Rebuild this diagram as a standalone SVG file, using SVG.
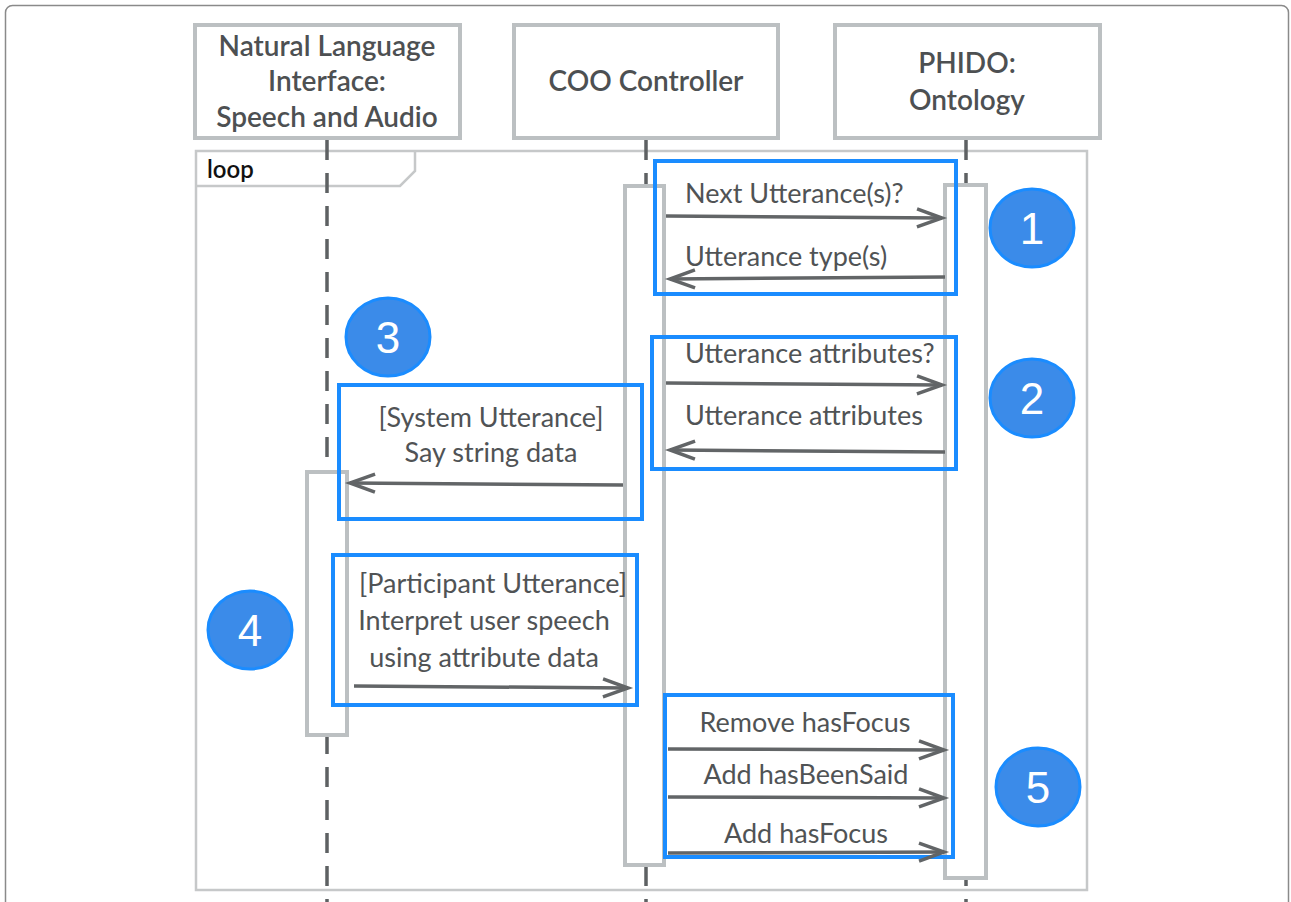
<svg xmlns="http://www.w3.org/2000/svg" width="1291" height="902" viewBox="0 0 1291 902">
<defs>
<style>
.frame{fill:none;stroke:#8a8a8a;stroke-width:1.5}
.head{fill:#ffffff;stroke:#bcc0c2;stroke-width:4}
.htxt{font-family:Lato,"Open Sans",sans-serif;font-size:28px;font-weight:600;fill:#4d5052;text-anchor:middle}
.loop{fill:none;stroke:#c6c8c9;stroke-width:2.5}
.life{stroke:#5e6163;stroke-width:3.5;stroke-dasharray:20 13;fill:none}
.act{fill:#ffffff;stroke:#bcc0c2;stroke-width:4}
.blue{fill:none;stroke:#1a8cff;stroke-width:4}
.msg{stroke:#626567;stroke-width:3.5;fill:none}
.mtxt{font-family:Lato,"Open Sans",sans-serif;font-size:27px;fill:#505355}
.mid{text-anchor:middle}
.badge{fill:#3b8be9;stroke:#1a8cff;stroke-width:3}
.num{font-family:"Liberation Sans",Arial,sans-serif;font-size:44px;fill:#ffffff;text-anchor:middle}
</style>
<marker id="arr" markerUnits="userSpaceOnUse" markerWidth="34" markerHeight="26" refX="27" refY="13" orient="auto">
<path d="M2,4 L27,13 L2,22" fill="none" stroke="#626567" stroke-width="3.5"/>
</marker>
</defs>
<rect class="frame" x="5.5" y="5.5" width="1283" height="920" rx="7"/>
<g id="loop-frame">
<rect class="loop" x="196" y="151" width="891" height="739"/>
<path class="loop" d="M196,186 L400,186 L415,171 L415,151"/>
<text x="207" y="178" font-family="Lato,'Open Sans',sans-serif" font-size="24" font-weight="600" fill="#111">loop</text>
</g>
<g id="lifelines">
<line class="life" x1="327" y1="140" x2="327" y2="902"/>
<line class="life" x1="646" y1="140" x2="646" y2="902"/>
<line class="life" x1="966" y1="140" x2="966" y2="902"/>
</g>
<g id="node-nl">
<rect class="head" x="195" y="25" width="265" height="113"/>
<text class="htxt" x="327" y="56">Natural Language</text>
<text class="htxt" x="327" y="91">Interface:</text>
<text class="htxt" x="327" y="127">Speech and Audio</text>
</g>
<g id="node-coo">
<rect class="head" x="514" y="25" width="264" height="113"/>
<text class="htxt" x="646" y="91">COO Controller</text>
</g>
<g id="node-phido">
<rect class="head" x="835" y="25" width="265" height="113"/>
<text class="htxt" x="967" y="73">PHIDO:</text>
<text class="htxt" x="967" y="110">Ontology</text>
</g>
<g id="activations">
<rect class="act" x="625" y="186" width="39" height="679"/>
<rect class="act" x="945" y="185" width="41" height="693"/>
<rect class="act" x="307" y="472" width="40" height="263"/>
</g>
<g id="groups">
<rect id="box1" class="blue" x="655" y="161" width="301" height="133"/>
<rect id="box2" class="blue" x="652" y="337" width="304" height="132"/>
<rect id="box3" class="blue" x="339" y="385" width="303" height="134"/>
<rect id="box4" class="blue" x="333" y="555" width="304" height="150"/>
<rect id="box5" class="blue" x="665" y="695" width="288" height="162"/>
</g>
<g id="connectors">
<line class="msg" x1="666" y1="216" x2="942" y2="218" marker-end="url(#arr)"/>
<line class="msg" x1="945" y1="277" x2="670" y2="279" marker-end="url(#arr)"/>
<line class="msg" x1="666" y1="383" x2="942" y2="385" marker-end="url(#arr)"/>
<line class="msg" x1="945" y1="452" x2="670" y2="450" marker-end="url(#arr)"/>
<line class="msg" x1="623" y1="485" x2="350" y2="483" marker-end="url(#arr)"/>
<line class="msg" x1="354" y1="686" x2="628" y2="688" marker-end="url(#arr)"/>
<line class="msg" x1="668" y1="749" x2="944" y2="750" marker-end="url(#arr)"/>
<line class="msg" x1="668" y1="797" x2="944" y2="798" marker-end="url(#arr)"/>
<line class="msg" x1="668" y1="853" x2="944" y2="852" marker-end="url(#arr)"/>
</g>
<g id="labels">
<text class="mtxt" x="685" y="203">Next Utterance(s)?</text>
<text class="mtxt" x="685" y="266">Utterance type(s)</text>
<text class="mtxt" x="685" y="363">Utterance attributes?</text>
<text class="mtxt" x="685" y="425">Utterance attributes</text>
<text class="mtxt mid" x="491" y="427">[System Utterance]</text>
<text class="mtxt mid" x="491" y="462">Say string data</text>
<text class="mtxt mid" x="493" y="593">[Participant Utterance]</text>
<text class="mtxt mid" x="484" y="630">Interpret user speech</text>
<text class="mtxt mid" x="484" y="667">using attribute data</text>
<text class="mtxt mid" x="805" y="732">Remove hasFocus</text>
<text class="mtxt mid" x="806" y="784">Add hasBeenSaid</text>
<text class="mtxt mid" x="806" y="843">Add hasFocus</text>
</g>
<g id="badge1"><ellipse class="badge" cx="1032" cy="228" rx="42" ry="39"/><text class="num" x="1032" y="244">1</text></g>
<g id="badge2"><ellipse class="badge" cx="1032" cy="398" rx="42" ry="39"/><text class="num" x="1032" y="414">2</text></g>
<g id="badge3"><ellipse class="badge" cx="388" cy="337" rx="42" ry="39"/><text class="num" x="388" y="353">3</text></g>
<g id="badge4"><ellipse class="badge" cx="250" cy="630" rx="42" ry="39"/><text class="num" x="250" y="646">4</text></g>
<g id="badge5"><ellipse class="badge" cx="1038" cy="787" rx="42" ry="39"/><text class="num" x="1038" y="803">5</text></g>
</svg>
